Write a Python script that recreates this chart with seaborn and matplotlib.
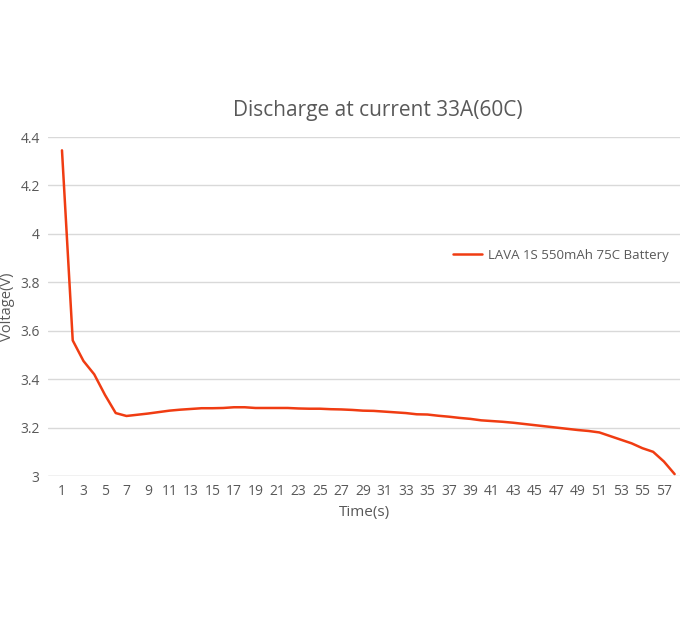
import matplotlib
matplotlib.use("Agg")
import matplotlib.pyplot as plt
import seaborn as sns
import pandas as pd

time_s = list(range(1, 59))
voltage = [4.345, 3.56, 3.475, 3.42, 3.335, 3.26, 3.248, 3.253, 3.258, 3.264,
           3.27, 3.274, 3.277, 3.28, 3.28, 3.281, 3.284, 3.284, 3.281, 3.281,
           3.281, 3.281, 3.279, 3.278, 3.278, 3.276, 3.275, 3.273, 3.27, 3.269,
           3.266, 3.263, 3.26, 3.255, 3.254, 3.249, 3.245, 3.24, 3.236, 3.23,
           3.227, 3.224, 3.22, 3.215, 3.21, 3.205, 3.2, 3.195, 3.19, 3.186,
           3.18, 3.165, 3.15, 3.135, 3.115, 3.1, 3.06, 3.008]
series_name = "LAVA 1S 550mAh 75C Battery"
xticks = list(range(1, 58, 2))
yticks = [3, 3.2, 3.4, 3.6, 3.8, 4, 4.2, 4.4]
ytick_labels = ["3", "3.2", "3.4", "3.6", "3.8", "4", "4.2", "4.4"]

sns.set_theme(style="white")
plt.rcParams['font.family'] = ['Open Sans', 'DejaVu Sans']
grey = "#595959"

df = pd.DataFrame({"t": time_s, "v": voltage})
fig = plt.figure(figsize=(6.8, 6.3), dpi=100)
ax = fig.add_axes([0.0706, 0.2444, 0.9294, 0.5381])
sns.lineplot(data=df, x="t", y="v", ax=ax, color="#F03C12", lw=1.8, label=series_name)
ax.set_xlim(-0.3, 58.5)
ax.set_ylim(3, 4.4)
ax.set_xticks(xticks)
ax.set_yticks(yticks)
ax.set_yticklabels(ytick_labels)
ax.grid(axis="y", color="#D9D9D9", lw=1)
for s in ax.spines.values():
    s.set_visible(False)
ax.axhline(3, color="#D9D9D9", lw=1, zorder=0)
ax.tick_params(colors=grey, labelsize=10, length=0, pad=6)
ax.set_xlabel("Time(s)", color=grey, fontsize=11)
ax.set_ylabel("Voltage(V)", color=grey, fontsize=10.5, labelpad=4)
fig.text(0.555, 0.825, "Discharge at current 33A(60C)", ha="center", va="center",
         color=grey, fontsize=15)
ax.legend(loc="center left", bbox_to_anchor=(0.648, 0.595), bbox_transform=fig.transFigure,
          frameon=False, fontsize=9.5, labelcolor=grey, handlelength=2.2, handletextpad=0.5)
fig.savefig("out.png", dpi=100)
